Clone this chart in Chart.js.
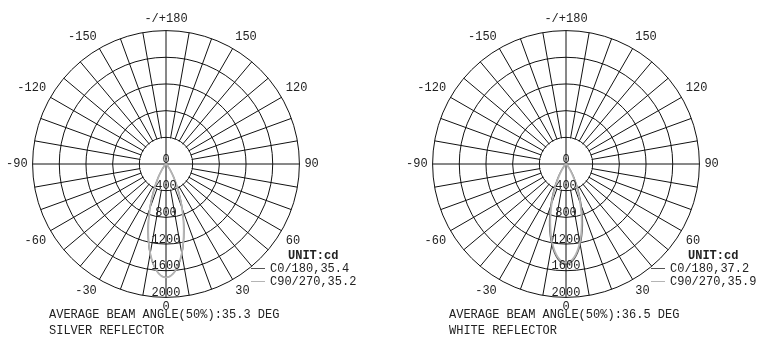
<!DOCTYPE html>
<html>
<head>
<meta charset="utf-8">
<script src="https://cdn.jsdelivr.net/npm/chart.js@4.4.1/dist/chart.umd.min.js"></script>
<style>
body{margin:0;background:#fff;}
#page{position:relative;width:776px;height:344px;overflow:hidden;font-family:"Liberation Mono",monospace;color:#222;}
canvas{position:absolute;}
.txt{position:absolute;font-size:12px;line-height:14px;white-space:pre;}
.unit{font-weight:bold;}
.leg{position:absolute;font-size:12px;line-height:14px;white-space:pre;}
.leg i{display:inline-block;width:14px;height:0;border-top:1.5px solid;vertical-align:middle;margin-right:5px;}
</style>
</head>
<body>
<div id="page">
<canvas id="silver" width="320" height="320" style="left:3px;top:4px"></canvas>
<canvas id="white" width="320" height="320" style="left:403px;top:4px"></canvas>
</div>
<script>
// gamma angle of each spoke, clockwise from the top (5 deg steps)
const gammaLabels = Array.from({length:72}, (_, i) => 180 - 5 * i)
const shownAngles = [180, 150, 120, 90, 60, 30, 0, -30, -60, -90, -120, -150]
const radialTicks = [0, 400, 800, 1200, 1600, 2000]

// candela at gamma 0,5,10,...,50 (symmetric lobes)
const silverC0 = [1700, 1610, 1370, 1040, 710, 430, 235, 115, 50, 20, 8]
const silverC90 = [1700, 1605, 1360, 1030, 700, 420, 228, 110, 47, 18, 6]
const whiteC0 = [1500, 1427, 1227, 956, 673, 429, 247, 129, 61, 26, 10]
const whiteC90 = [1480, 1403, 1194, 912, 626, 386, 214, 106, 47, 19, 7]

const charts = [
{id:"silver", c0:silverC0, c90:silverC90, c0Label:"C0/180,35.4", c90Label:"C90/270,35.2",
 beam:"AVERAGE BEAM ANGLE(50%):35.3 DEG", name:"SILVER REFLECTOR", dx:0},
{id:"white", c0:whiteC0, c90:whiteC90, c0Label:"C0/180,37.2", c90Label:"C90/270,35.9",
 beam:"AVERAGE BEAM ANGLE(50%):36.5 DEG", name:"WHITE REFLECTOR", dx:400}
]

const c0Color = "#555"
const c90Color = "#b4b4b4"
const gridColor = "#111"
const font = "Liberation Mono"

function toSeries(profile){
return gammaLabels.map(g => profile[Math.abs(g) / 5] ?? 0)
}

const hubPlugin = {
id:"hub",
beforeDatasetsDraw(chart){
const s = chart.scales.r
const ctx = chart.ctx
const r = s.getDistanceFromCenterForValue(radialTicks[1])
ctx.save()
ctx.fillStyle = "#fff"
ctx.beginPath()
ctx.arc(s.xCenter, s.yCenter, r - 0.7, 0, Math.PI * 2)
ctx.fill()
ctx.strokeStyle = gridColor
ctx.lineWidth = 1
ctx.beginPath()
;[0, 18, 36, 54].forEach(i => {
const p = s.getPointPosition(i, r)
ctx.moveTo(s.xCenter, s.yCenter)
ctx.lineTo(p.x, p.y)
})
ctx.stroke()
ctx.restore()
},
afterDatasetsDraw(chart){
const s = chart.scales.r
const ctx = chart.ctx
ctx.save()
ctx.fillStyle = "#222"
ctx.font = "12px '" + font + "'"
ctx.textAlign = "center"
ctx.textBaseline = "middle"
radialTicks.forEach(v => {
ctx.fillText(String(v), s.xCenter, s.yCenter + s.getDistanceFromCenterForValue(v) - 4.5)
})
ctx.restore()
}
}

const page = document.getElementById("page")

charts.forEach(c => {

new Chart(document.getElementById(c.id), {
type:"radar",
data:{
labels:gammaLabels,
datasets:[
{label:c.c90Label, data:toSeries(c.c90), borderColor:c90Color, borderWidth:1.8, fill:false, pointRadius:0, tension:0.35},
{label:c.c0Label, data:toSeries(c.c0), borderColor:c0Color, borderWidth:1.2, fill:false, pointRadius:0, tension:0.35}
]
},
options:{
responsive:false,
animation:false,
plugins:{legend:{display:false}, tooltip:{enabled:false}},
scales:{
r:{
min:0,
max:2000,
startAngle:0,
ticks:{display:false, stepSize:400},
grid:{circular:true, color:gridColor, lineWidth:1},
angleLines:{color:gridColor, lineWidth:ctx => ctx.index % 2 ? 0 : 1},
pointLabels:{
padding:ctx => ctx.index === 36 ? 2 : 5,
color:"#222",
font:{family:font, size:12},
callback:(label) => {
if(!shownAngles.includes(label)) return ""
return label === 180 ? "-/+180" : String(label)
}
}
}
}
},
plugins:[hubPlugin]
})

/* legend and captions */
const add = (cls, html, x, y) => {
const d = document.createElement("div")
d.className = cls
d.innerHTML = html
d.style.left = (x + c.dx) + "px"
d.style.top = y + "px"
page.appendChild(d)
}

add("txt unit", "UNIT:cd", 288, 249)
add("leg", '<i style="color:' + c0Color + '"></i>' + c.c0Label, 251, 262)
add("leg", '<i style="color:' + c90Color + '"></i>' + c.c90Label, 251, 275)
add("txt", c.beam, 49, 308)
add("txt", c.name, 49, 324)

})
</script>
</body>
</html>
